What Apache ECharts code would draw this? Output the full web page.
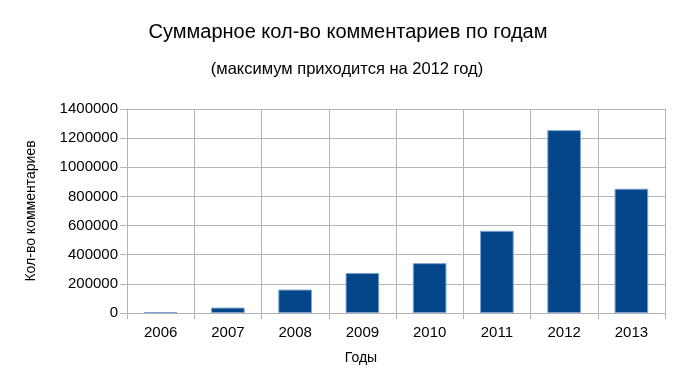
<!DOCTYPE html>
<html>
<head>
<meta charset="utf-8">
<script src="https://cdn.jsdelivr.net/npm/echarts@6/dist/echarts.min.js"></script>
<style>html,body{margin:0;padding:0;background:#fff}#c{width:693px;height:390px}</style>
</head>
<body>
<div id="c"></div>
<script>
const years = ['2006','2007','2008','2009','2010','2011','2012','2013'];
const comments = [6000, 37000, 161000, 275000, 342000, 564000, 1255000, 853000];
const titleText = 'Суммарное кол-во комментариев по годам';
const subtitleText = '(максимум приходится на 2012 год)';
const xName = 'Годы';
const yName = 'Кол-во комментариев';

const chart = echarts.init(document.getElementById('c'), null, {renderer: 'canvas'});
const font = '"Liberation Sans", Arial, Helvetica, sans-serif';
const gridColor = '#b3b3b3';
chart.setOption({
  animation: false,
  backgroundColor: '#ffffff',
  textStyle: {fontFamily: font},
  grid: {left: 127, right: 28, top: 109, bottom: 77, containLabel: false},
  title: [
    {text: titleText, left: 348, top: 22, textAlign: 'center', padding: 0,
     textStyle: {fontSize: 20, fontWeight: 'normal', color: '#000', fontFamily: font}},
    {text: subtitleText, left: 347, top: 61, textAlign: 'center', padding: 0,
     textStyle: {fontSize: 16.5, fontWeight: 'normal', color: '#000', fontFamily: font}},
    {text: xName, left: 361, top: 351, textAlign: 'center', padding: 0,
     textStyle: {fontSize: 14, fontWeight: 'normal', color: '#000', fontFamily: font}}
  ],
  xAxis: {
    type: 'category',
    data: years,
    boundaryGap: true,
    axisLine: {show: true, lineStyle: {color: gridColor, width: 1}},
    axisTick: {show: true, length: 6, lineStyle: {color: gridColor}},
    axisLabel: {color: '#000', fontSize: 15, margin: 12, fontFamily: font},
    splitLine: {show: true, lineStyle: {color: gridColor, width: 1}}
  },
  yAxis: {
    type: 'value',
    min: 0, max: 1400000, interval: 200000,
    name: yName,
    nameLocation: 'middle',
    nameGap: 89,
    nameRotate: 90,
    nameTextStyle: {color: '#000', fontSize: 14, fontFamily: font},
    axisLine: {show: true, lineStyle: {color: gridColor, width: 1}},
    axisTick: {show: true, length: 7, lineStyle: {color: gridColor}},
    axisLabel: {color: '#000', fontSize: 15, margin: 9, fontFamily: font,
                formatter: function (v) { return String(v); }},
    splitLine: {show: true, lineStyle: {color: gridColor, width: 1}}
  },
  series: [{
    type: 'bar',
    data: comments,
    barWidth: '50%',
    itemStyle: {color: '#04468a', borderColor: '#7aa3d2', borderWidth: 1}
  }]
});
</script>
</body>
</html>
